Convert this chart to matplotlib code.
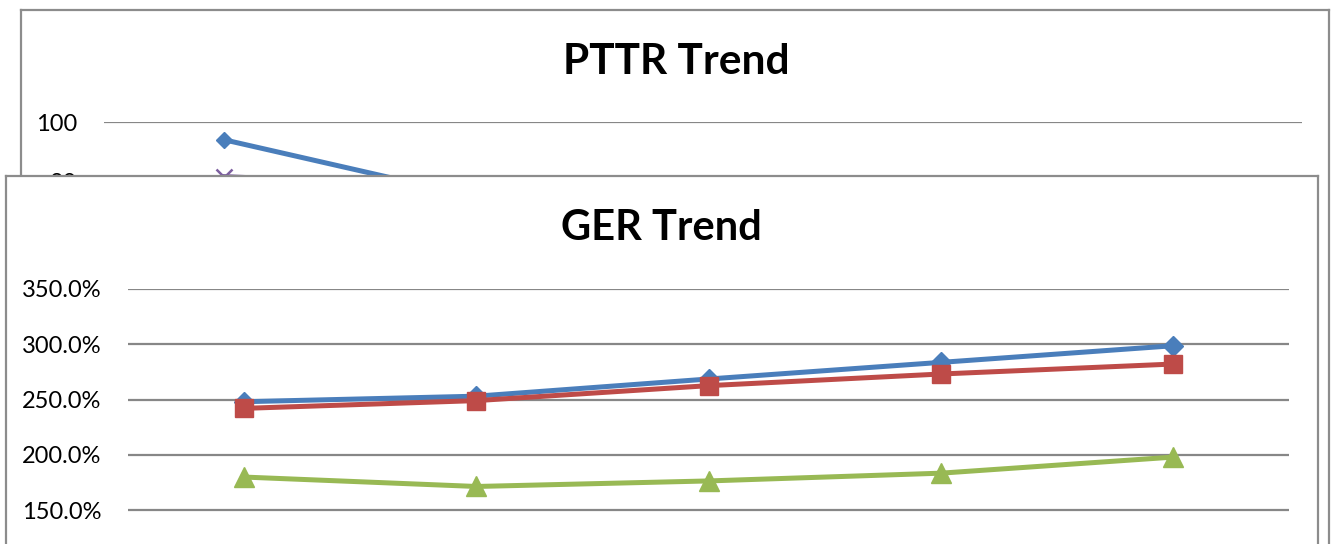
import matplotlib
matplotlib.use("Agg")
import matplotlib.pyplot as plt
from matplotlib.ticker import PercentFormatter

# ---------------- data ----------------
categories = ["Year 1", "Year 2", "Year 3", "Year 4", "Year 5"]

# PTTR chart (background, mostly hidden)
pttr_blue = [94, 75.5, 70, 66, 62]
pttr_purple = [81.5, 78, 74, 70, 67]
pttr_ticks = [80, 100]

# GER chart (foreground), values as fractions
ger_blue = [2.48, 2.53, 2.685, 2.835, 2.985]
ger_red = [2.42, 2.49, 2.625, 2.73, 2.82]
ger_green = [1.80, 1.715, 1.765, 1.835, 1.98]
ger_ticks = [1.5, 2.0, 2.5, 3.0, 3.5]

BLUE = "#4A7EBB"
RED = "#BE4B48"
GREEN = "#98B954"
PURPLE = "#7D5FA0"
GRID = "#878787"
FRAME = "#8C8C8C"

plt.rcParams["font.family"] = ["Lato", "DejaVu Sans"]

W, H = 1331, 544
fig = plt.figure(figsize=(W / 100, H / 100), dpi=100)


def rect(l, t, r, b):
    return [l / W, 1 - b / H, (r - l) / W, (b - t) / H]


def frame_axes(box, z):
    a = fig.add_axes(box, zorder=z)
    a.set_xticks([])
    a.set_yticks([])
    a.set_facecolor("white")
    for s in a.spines.values():
        s.set_color(FRAME)
        s.set_linewidth(1.6)
    return a


x = list(range(len(categories)))

# ---------- background PTTR chart ----------
frame_axes(rect(21, 10, 1329, 760), 0)
# plot area: 100 at y=122, 2.95 px per unit; only the top part is visible
ax1 = fig.add_axes(rect(104, 122, 1302, 122 + 25 * 2.95), zorder=1)
ax1.set_facecolor("none")
ax1.plot(x, pttr_blue, color=BLUE, lw=3.6, marker="D", ms=8.5, mec=BLUE,
         zorder=3, clip_on=False)
ax1.plot(x, pttr_purple, color=PURPLE, lw=3.6, marker="x", ms=11, mew=1.8,
         zorder=3, clip_on=False)
ax1.set_xlim(-0.5, len(categories) - 0.5)
ax1.set_ylim(75, 100)
ax1.set_yticks(pttr_ticks)
ax1.set_xticks(x)
ax1.set_xticklabels(categories)
ax1.grid(axis="y", color=GRID, lw=1.6)
ax1.set_axisbelow(True)
for s in ax1.spines.values():
    s.set_visible(False)
ax1.tick_params(axis="y", length=0, pad=19, labelsize=17)
ax1.tick_params(axis="x", length=0, labelbottom=False)
fig.text(676 / W, 1 - 62 / H, "PTTR Trend", ha="center", va="center",
         fontsize=30.5, fontweight="bold", zorder=1.5)

# ---------- foreground GER chart ----------
frame_axes(rect(6, 176, 1318, 800), 2)
# plot area: 350% at y=288.7, 55.4 px per 50%
ax2 = fig.add_axes(rect(128, 288.7, 1289, 288.7 + 4.5 * 55.4), zorder=3)
ax2.set_facecolor("none")
ax2.plot(x, ger_blue, color=BLUE, lw=3.6, marker="D", ms=10, mec=BLUE, zorder=3)
ax2.plot(x, ger_red, color=RED, lw=3.6, marker="s", ms=13.5, mec=RED, zorder=4)
ax2.plot(x, ger_green, color=GREEN, lw=3.6, marker="^", ms=14, mec=GREEN, zorder=3)
ax2.set_xlim(-0.5, len(categories) - 0.5)
ax2.set_ylim(1.25, 3.5)
ax2.set_yticks(ger_ticks)
ax2.yaxis.set_major_formatter(PercentFormatter(xmax=1, decimals=1))
ax2.set_xticks(x)
ax2.set_xticklabels(categories)
ax2.grid(axis="y", color=GRID, lw=1.6)
ax2.set_axisbelow(True)
for s in ax2.spines.values():
    s.set_visible(False)
ax2.tick_params(axis="y", length=0, pad=19, labelsize=17)
ax2.tick_params(axis="x", length=0, labelbottom=False)
fig.text(661 / W, 1 - 228 / H, "GER Trend", ha="center", va="center",
         fontsize=30, fontweight="bold", zorder=3.5)

fig.savefig("out.png", dpi=100)
